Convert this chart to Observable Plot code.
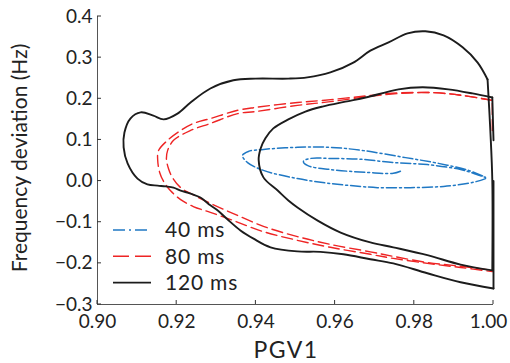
<!DOCTYPE html>
<html>
<head>
<meta charset="utf-8">
<script src="https://cdn.jsdelivr.net/npm/d3@7"></script>
<script src="https://cdn.jsdelivr.net/npm/@observablehq/plot@0.6"></script>
<style>
  html, body { margin: 0; padding: 0; background: #fff; }
</style>
</head>
<body>
<div id="chart"></div>
<script>
// Phase-plane trajectories: PGV1 against frequency deviation, for three fault durations.
const xTicks = [0.90, 0.92, 0.94, 0.96, 0.98, 1.00];
const yTicks = [-0.3, -0.2, -0.1, 0.0, 0.1, 0.2, 0.3, 0.4];
const seriesNames = ["40 ms", "80 ms", "120 ms"];

// 40 ms trajectory
const pgv40 = [0.9980, 0.9949, 0.9874, 0.9790, 0.9707, 0.9664, 0.9588, 0.9505, 0.9419, 0.9379,
               0.9366, 0.9381, 0.9419, 0.9505, 0.9588, 0.9672, 0.9778, 0.9861, 0.9937, 0.9980,
               0.9949, 0.9917, 0.9833, 0.9747, 0.9664, 0.9588, 0.9538, 0.9520, 0.9530, 0.9588,
               0.9682, 0.9747, 0.9770];
const freq40 = [0.006, -0.003, -0.013, -0.016, -0.016, -0.013, -0.006, 0.006, 0.026, 0.045,
                0.062, 0.072, 0.077, 0.082, 0.082, 0.074, 0.057, 0.043, 0.026, 0.009,
                0.019, 0.028, 0.040, 0.045, 0.053, 0.055, 0.055, 0.048, 0.038, 0.028,
                0.021, 0.019, 0.026];

// 80 ms trajectory
const pgv80 = [0.9997, 0.9997, 0.9922, 0.9846, 0.9735, 0.9689, 0.9568, 0.9505, 0.9399, 0.9354,
               0.9285, 0.9242, 0.9210, 0.9177, 0.9154, 0.9152, 0.9157, 0.9167, 0.9184, 0.9210,
               0.9242, 0.9285, 0.9343, 0.9419, 0.9505, 0.9588, 0.9689, 0.9747, 0.9833, 0.9917,
               0.9997,
               0.9997, 0.9922, 0.9846, 0.9765, 0.9689, 0.9588, 0.9505, 0.9399, 0.9354,
               0.9285, 0.9235, 0.9192, 0.9177, 0.9174, 0.9179, 0.9189, 0.9210, 0.9235, 0.9285,
               0.9343, 0.9419, 0.9505, 0.9588, 0.9689, 0.9747, 0.9833, 0.9917, 0.9997];
const freq80 = [0.123, 0.196, 0.208, 0.215, 0.213, 0.208, 0.196, 0.191, 0.179, 0.172,
                0.152, 0.140, 0.123, 0.099, 0.074, 0.051, 0.021, -0.001, -0.023, -0.045,
                -0.062, -0.076, -0.096, -0.123, -0.144, -0.161, -0.178, -0.188, -0.200, -0.210,
                -0.220,
                0.196, 0.208, 0.215, 0.213, 0.206, 0.193, 0.184, 0.169, 0.164,
                0.140, 0.123, 0.099, 0.074, 0.055, 0.031, 0.009, -0.016, -0.030, -0.054,
                -0.079, -0.110, -0.135, -0.154, -0.172, -0.183, -0.198, -0.207, -0.217];

// 120 ms trajectory
const pgv120 = [1.000, 1.000, 0.9917, 0.9833, 0.9747, 0.9689, 0.9621, 0.9563, 0.9505, 0.9437,
                0.9394, 0.9361, 0.9328, 0.9303, 0.9285, 0.9260, 0.9242, 0.9227, 0.9210, 0.9192,
                0.9172, 0.9152, 0.9126, 0.9101, 0.9076, 0.9066, 0.9068, 0.9083, 0.9109, 0.9141,
                0.9167, 0.9202, 0.9235, 0.9285, 0.9343, 0.9399, 0.9482, 0.9530, 0.9588, 0.9646,
                0.9689, 0.9735, 0.9783, 0.9828, 0.9874, 0.9922, 0.9960, 0.9985, 0.9992, 0.9997,
                0.9997, 0.9917, 0.9833, 0.9747, 0.9689, 0.9614, 0.9556, 0.9505, 0.9482, 0.9455,
                0.9419, 0.9407, 0.9412, 0.9424, 0.9444, 0.9482, 0.9525, 0.9568, 0.9626, 0.9677,
                0.9760, 0.9821, 0.9886, 0.9947, 0.9997, 1.000];
const freq120 = [0.000, -0.261, -0.246, -0.224, -0.200, -0.190, -0.178, -0.172, -0.171, -0.161,
                 -0.140, -0.120, -0.093, -0.071, -0.059, -0.040, -0.033, -0.028, -0.023, -0.016,
                 -0.013, -0.011, -0.008, 0.006, 0.043, 0.082, 0.118, 0.152, 0.167, 0.159,
                 0.150, 0.164, 0.191, 0.225, 0.245, 0.249, 0.249, 0.252, 0.264, 0.288,
                 0.317, 0.337, 0.359, 0.364, 0.354, 0.325, 0.288, 0.247, 0.123, 0.001,
                 -0.217, -0.203, -0.180, -0.161, -0.149, -0.125, -0.096, -0.064, -0.047, -0.023,
                 0.009, 0.051, 0.079, 0.104, 0.128, 0.150, 0.169, 0.181, 0.193, 0.203,
                 0.223, 0.228, 0.223, 0.213, 0.203, 0.099];

// Index ranges of each smooth stretch; corners sit on shared end points.
const pieces40 = [[0, 32]];
const pieces80 = [[0, 1], [1, 30], [31, 58]];
const pieces120 = [[0, 1], [1, 47], [47, 50], [50, 74], [74, 75]];

const FONT = "Lato, 'Open Sans', sans-serif";
const styles = [
  {stroke: "#1f78c4", width: 1.5, dash: "10,3,2,3", legendDash: "12,4,2,4"},
  {stroke: "#ee2424", width: 1.4, dash: "11,5", legendDash: "16,6"},
  {stroke: "#1c1c1c", width: 1.9, dash: null, legendDash: null}
];

const toRows = (xs, ys, pieces, name) => pieces.flatMap(([a, b], k) =>
  d3.range(a, b + 1).map(i => ({pgv: xs[i], freq: ys[i], piece: k, series: name})));
const tracks = [
  toRows(pgv40, freq40, pieces40, seriesNames[0]),
  toRows(pgv80, freq80, pieces80, seriesNames[1]),
  toRows(pgv120, freq120, pieces120, seriesNames[2])
];

const chart = Plot.plot({
  width: 510,
  height: 363,
  marginLeft: 97,
  marginRight: 17,
  marginTop: 16,
  marginBottom: 59,
  style: {fontFamily: FONT, fontSize: "19px", color: "#222", background: "#fff", overflow: "visible"},
  x: {domain: [0.9, 1.0], label: null},
  y: {domain: [-0.3, 0.4], label: null},
  marks: [
    Plot.axisX({ticks: xTicks, tickSize: 0, tickPadding: 10, tickFormat: d3.format(".2f"), fontSize: 19, label: null}),
    Plot.axisY({ticks: yTicks, tickSize: 0, tickPadding: 5, tickFormat: d3.format(".1f"), fontSize: 19, label: null}),
    ...tracks.map((rows, i) => Plot.line(rows, {
      x: "pgv", y: "freq", z: "piece",
      stroke: styles[i].stroke,
      strokeWidth: styles[i].width,
      strokeDasharray: styles[i].dash,
      curve: "catmull-rom"
    })),
    Plot.ruleX([0.9], {stroke: "#555", strokeWidth: 1}),
    Plot.ruleY([-0.3], {stroke: "#555", strokeWidth: 1})
  ]
});

const svg = d3.select(chart);
const sx = chart.scale("x"), sy = chart.scale("y");
const x0 = sx.apply(0.9), y0 = sy.apply(-0.3);

// keep the last x label inside the right edge
const xLabels = svg.selectAll('g[aria-label="x-axis tick label"] text');
d3.select(xLabels.nodes()[xLabels.size() - 1]).attr("dx", -5);

// inward tick marks
const ticks = svg.append("g").attr("stroke", "#333").attr("stroke-width", 1);
xTicks.forEach(v => ticks.append("line")
  .attr("x1", sx.apply(v)).attr("x2", sx.apply(v)).attr("y1", y0).attr("y2", y0 - 4));
yTicks.forEach(v => ticks.append("line")
  .attr("x1", x0).attr("x2", x0 + 4).attr("y1", sy.apply(v)).attr("y2", sy.apply(v)));

// axis titles
svg.append("text")
  .attr("x", 286).attr("y", 358)
  .attr("text-anchor", "middle")
  .attr("font-family", FONT).attr("font-size", 23).attr("letter-spacing", 1.5).attr("fill", "#222")
  .text("PGV1");
svg.append("text")
  .attr("transform", "translate(27,158) rotate(-90)")
  .attr("text-anchor", "middle")
  .attr("font-family", FONT).attr("font-size", 21).attr("fill", "#222")
  .text("Frequency deviation (Hz)");

// legend
const legend = svg.append("g").attr("text-anchor", "start");
seriesNames.forEach((name, i) => {
  const yy = 230 + i * 26.3;
  legend.append("line")
    .attr("x1", 113).attr("x2", 151).attr("y1", yy).attr("y2", yy)
    .attr("stroke", styles[i].stroke).attr("stroke-width", styles[i].width)
    .attr("stroke-dasharray", styles[i].legendDash);
  legend.append("text")
    .attr("x", 165).attr("y", yy).attr("dy", "0.35em")
    .attr("text-anchor", "start")
    .attr("font-family", FONT).attr("font-size", 21).attr("letter-spacing", 0.8).attr("fill", "#222")
    .text(name);
});

document.getElementById("chart").appendChild(chart);
</script>
</body>
</html>
